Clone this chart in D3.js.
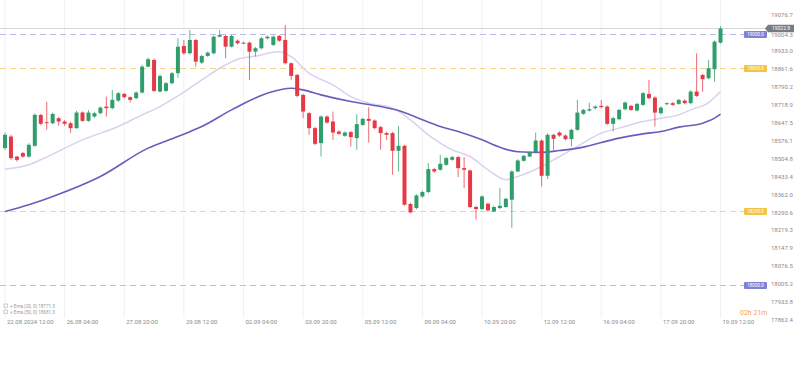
<!DOCTYPE html>
<html><head><meta charset="utf-8">
<script src="https://cdn.jsdelivr.net/npm/d3@7"></script>
<style>
html,body{margin:0;padding:0;background:#fff;}
svg{display:block;font-family:Roboto,"Noto Sans",sans-serif;}
</style></head>
<body>
<svg id="chart" width="806" height="367"></svg>
<script>
// ---------- DATA (4h candles, index 0 = 22.08.2024 12:00) ----------
const opens = [
18546,18592,18512,18526,18512,18555,18678,18649,18645,18665,
18652,18645,18625.5,18688,18654.6,18671.7,18685.2,18711.5,18705.2,18735.4,
18762,18749,18745,18767.3,18870.8,18897.5,18771.3,18774,18804.7,18844.5,
18953.2,18924.2,18977.1,18886.7,18913.4,18924.2,18990.3,18993,18950.4,18974.3,
18964,18966.4,18930.5,18944.1,18983.9,18957.2,18993,18977.1,18884.3,18837.7,
18758.1,18685.2,18625.5,18565.8,18671.7,18651.8,18612,18594.8,18609.6,18585.7,
18638.6,18662.5,18655.8,18629.5,18605.6,18605.6,18535.1,18555,18322.9,18307,
18353.1,18370.7,18462.2,18459.5,18479.4,18499.3,18510,18466.2,18456.7,18310.9,
18303,18324.1,18293.4,18307,18310.9,18340,18452.7,18495.3,18512.4,18529.9,
18576.1,18435.6,18598.8,18608,18596,18581.7,18618.7,18682.5,18695.6,18705.2,
18714.3,18711.5,18642.6,18661.3,18701.2,18714.3,18695.6,18718.3,18762.1,18747.4,
18685.2,18721.1,18725.1,18722.3,18735.4,18725.1,18771.3,18837.7,18824.6,18860.4,
18966.4];
const highs = [
18607,18599,18515,18531,18565,18684.5,18682,18731,18688,18670,
18657,18651,18694.4,18692.4,18698.4,18690.4,18712.3,18751.3,18778,18770,
18766,18752,18772,18877.6,18907.4,18903.5,18839.7,18809.9,18849.7,18983.9,
18977.1,19016.9,18981.1,18917.4,18931.3,18995,19016.9,18997,18997,18979.1,
18970.4,18971,18949.2,18989,18995,18995,18997,19036.9,18887.5,18841.7,
18762.1,18690.4,18630.7,18676.5,18676.5,18691.6,18616.7,18612.7,18614.8,18681.3,
18666.5,18709.1,18660.5,18634.7,18610.8,18610.8,18634.7,18559,18328,18362,
18375.8,18486.1,18467.4,18519.2,18511,18515.2,18515.2,18510,18461.5,18316.1,
18358,18328,18316.1,18386.6,18348,18457.5,18501.3,18519.2,18535.1,18608,
18580.9,18604.8,18602.8,18612.7,18600.8,18622.7,18738.2,18702.4,18727.4,18716.3,
18738.2,18716.3,18670.5,18702.4,18732.2,18718.3,18726.2,18770,18817.8,18752.1,
18712.3,18728.2,18730.2,18742.2,18740.2,18776,18924.2,18841.7,18897.5,18975,
19032];
const lows = [
18539,18499,18492,18507,18507,18551,18637,18619,18641,18635,
18635,18607,18622.7,18650.6,18650.6,18666.5,18680.5,18671.7,18700.4,18730,
18744,18727.4,18740,18764,18867.6,18770,18768,18770,18800,18825.8,
18917.4,18919.4,18870.8,18881.5,18909.4,18919.4,18987,18904.2,18947.3,18959.2,
18960,18817.8,18910.6,18939.3,18979.1,18953.2,18969.2,18879.6,18817.8,18748.2,
18665.3,18598.8,18557,18512.4,18642.6,18578.9,18598.8,18590.8,18552.2,18539.1,
18634.7,18568.2,18620.7,18539.1,18578.9,18439.5,18452.7,18316.1,18286.2,18302,
18348,18365.8,18447.5,18455.5,18475.4,18495.3,18430.4,18386.6,18306.2,18260.4,
18298,18292.2,18290.2,18302.4,18308.2,18228.5,18449.5,18491.3,18509.2,18525.1,
18393,18422.4,18539.1,18590.8,18576.9,18552.2,18614.8,18678.5,18691.6,18700.4,
18704.4,18638.6,18612,18656.6,18696.4,18694.4,18692.4,18714.3,18740.2,18631.9,
18680.5,18716.3,18714.3,18718.3,18720.3,18720.3,18750.1,18771.3,18819.6,18811.1,
18963];
const closes = [
18599,18506,18499,18512,18559,18678.5,18643,18646,18682,18652,
18643,18625.5,18687.6,18654.6,18687.6,18685.2,18707.5,18705.2,18738.2,18764.9,
18749,18738.2,18767.3,18870.8,18900.3,18774,18833.8,18804.7,18844.5,18950.4,
18924.2,18977.1,18890.7,18913.4,18926.5,18990.3,18997,18950.4,18993,18964,
18966.4,18930.5,18944.1,18983.9,18990.3,18990.3,18974.3,18884.3,18833.8,18754.1,
18691.6,18625.5,18563,18671.7,18647.8,18608,18602.8,18608,18589.7,18641.4,
18662.5,18654.6,18625.5,18605.6,18598.8,18535.1,18555,18320.1,18289.4,18357.1,
18370.7,18462.2,18452.7,18483.4,18506,18510,18466.2,18459.5,18310.9,18303,
18353.1,18297.4,18310.9,18316.1,18344,18452.7,18496.5,18515.2,18529.9,18576.1,
18435.6,18598.8,18582.9,18596,18581.7,18618.7,18687.6,18698.4,18701.2,18711.5,
18709.1,18642.6,18665.3,18698.4,18727.4,18698.4,18722.3,18764.9,18745,18687.6,
18707.5,18725.1,18718.3,18738.2,18725.1,18771.3,18754.1,18820.6,18864.4,18970.4,
19022.8];

// moving averages (candle index, value)
const emaFastIdx = [0,4,6,13,19,23,26,29,33,36,39,43,44,46,48,51,55,58,61,65,68,71,75,78,81,84,86,90,93,96,100,103,107,110,113,115,118,120];
const emaFastVal = [18462.2,18479.4,18499.3,18578.9,18631.9,18678.5,18711.5,18754.1,18817.8,18864.4,18900.3,18917.4,18924.2,18930.5,18910.6,18844.5,18797.9,18751.3,18725.1,18705.2,18658.6,18598.8,18539.1,18512.4,18459.5,18419.6,18432.8,18472.6,18512.4,18552.2,18605.6,18625.5,18651.8,18665.3,18678.5,18698.4,18727.4,18771.3];
const emaSlowIdx = [0,4,8,16,24,29,33,38,44,48,50,53,58,63,66,70,73,76,80,83,86,90,93,97,100,103,107,110,113,117,119,120];
const emaSlowVal = [18293.4,18320.1,18353.1,18432.8,18545.9,18592.1,18631.9,18698.4,18764.9,18784.8,18778,18758.1,18731.4,18711.5,18695.6,18658.6,18631.9,18612,18578.9,18549,18531.1,18529,18536.3,18549.9,18568.2,18585.7,18602.8,18612,18629.5,18645.4,18665.3,18681.3];

// horizontal levels
const levelVals = [19000.0, 18865.0, 18295.0, 18000.0];
const levelKinds = ["purple", "yellow", "yellow", "purple"];

// axes
const yTicks = [19076.7,19004.3,18933.0,18861.6,18790.2,18718.9,18647.5,18576.1,18504.8,18433.4,18362.0,18290.6,18219.3,18147.9,18076.5,18005.2,17933.8,17862.4];
const xTicks = [0,10,20,30,40,50,60,70,80,90,100,110,120];
const xTickLabels = ["22.08.2024 12:00","26.08 04:00","27.08 20:00","29.08 12:00","02.09 04:00","03.09 20:00","05.09 12:00","09.09 04:00","10.09 20:00","12.09 12:00","16.09 04:00","17.09 20:00","19.09 12:00"];
const legendLabels = ["Ema (20, 0)", "Ema (50, 0)"];
const timerText = "02h 21m";

// ---------- STYLE ----------
const C = {
  up: "#2f9e6c", down: "#e63946",
  fast: "#d9d1ee", slow: "#6a5cbf",
  purple: {line: "#b9bbea", box: "#7f83d6"},
  yellow: {line: "#f3d68e", box: "#f2c442"},
  grid: "#f1f1f1", axisText: "#8a8a8a", last: "#d6d6d6", lastBox: "#767c83",
  timer: "#f2a45c"
};

const svg = d3.select("#chart");
const x = d3.scaleLinear().domain([0, 120]).range([5, 720.5]);
const y = d3.scaleLinear().domain([17862.4, 19076.7]).range([319.5, 15]);
const plotRight = 768;

const candles = opens.map((o, i) => ({i, o, h: highs[i], l: lows[i], c: closes[i]}));

// vertical grid
svg.append("g").selectAll("line").data(xTicks).join("line")
  .attr("x1", d => x(d)).attr("x2", d => x(d))
  .attr("y1", 0).attr("y2", 318)
  .attr("stroke", C.grid).attr("stroke-width", 1);

// level lines
svg.append("g").selectAll("line").data(levelVals).join("line")
  .attr("x1", 0).attr("x2", 744)
  .attr("y1", d => Math.round(y(d)) + 0.5).attr("y2", d => Math.round(y(d)) + 0.5)
  .attr("stroke", (d, i) => C[levelKinds[i]].line)
  .attr("stroke-width", 1).attr("stroke-dasharray", "6,4");

// last price line
const lastVal = closes[closes.length - 1];
svg.append("line")
  .attr("x1", 0).attr("x2", plotRight)
  .attr("y1", y(lastVal)).attr("y2", y(lastVal))
  .attr("stroke", C.last).attr("stroke-width", 1);

// moving averages
const line = d3.line().x(d => x(d[0])).y(d => y(d[1])).curve(d3.curveMonotoneX);
svg.append("path").datum(emaFastIdx.map((d, k) => [d, emaFastVal[k]]))
  .attr("d", line).attr("fill", "none").attr("stroke", C.fast).attr("stroke-width", 1.5);
svg.append("path").datum(emaSlowIdx.map((d, k) => [d, emaSlowVal[k]]))
  .attr("d", line).attr("fill", "none").attr("stroke", C.slow).attr("stroke-width", 1.6);

// candles
const cg = svg.append("g");
cg.selectAll("line").data(candles).join("line")
  .attr("x1", d => x(d.i)).attr("x2", d => x(d.i))
  .attr("y1", d => y(d.h)).attr("y2", d => y(d.l))
  .attr("stroke", d => d.c >= d.o ? C.up : C.down).attr("stroke-width", 1).attr("opacity", 0.75);
cg.selectAll("rect").data(candles).join("rect")
  .attr("x", d => x(d.i) - 2).attr("width", 4)
  .attr("y", d => y(Math.max(d.o, d.c)))
  .attr("height", d => Math.max(1, Math.abs(y(d.o) - y(d.c))))
  .attr("fill", d => d.c >= d.o ? C.up : C.down);

// y axis (right)
const yAxis = svg.append("g").attr("transform", `translate(769,0)`)
  .call(d3.axisRight(y).tickValues(yTicks).tickSize(0).tickPadding(2).tickFormat(d => d.toFixed(1)));
yAxis.select(".domain").remove();
yAxis.selectAll("text").attr("fill", C.axisText).style("font-size", "6px").style("font-family", "Roboto")
  .attr("dy", (d, k) => k === 1 ? "0.55em" : "0.32em");

// x axis (bottom)
const xAxis = svg.append("g").attr("transform", `translate(0,318)`)
  .call(d3.axisBottom(x).tickValues(xTicks).tickSize(0).tickPadding(2).tickFormat((d, k) => xTickLabels[k]));
xAxis.select(".domain").remove();
xAxis.selectAll("text").attr("fill", C.axisText).attr("text-anchor", "start").attr("dx", 1.5)
  .style("font-size", "6px").style("font-family", "Roboto");

// level labels
const lg = svg.append("g").selectAll("g").data(levelVals).join("g")
  .attr("transform", d => `translate(744,${Math.round(y(d)) + 0.5})`);
lg.append("rect").attr("x", 0).attr("y", -3.5).attr("width", 23).attr("height", 7).attr("rx", 1)
  .attr("fill", (d, i) => C[levelKinds[i]].box);
lg.append("text").attr("x", 11.5).attr("y", 0).attr("dy", "0.35em").attr("text-anchor", "middle")
  .attr("fill", "#fff").style("font-size", "4.6px").text(d => d.toFixed(1));

// last price label
const ly = y(lastVal);
svg.append("path")
  .attr("d", `M765,${ly} L768,${ly - 3.8} L794,${ly - 3.8} L794,${ly + 3.8} L768,${ly + 3.8} Z`)
  .attr("fill", C.lastBox);
svg.append("text").attr("x", 781).attr("y", ly - 0.3).attr("dy", "0.35em").attr("text-anchor", "middle")
  .attr("fill", "#fff").style("font-size", "5px").text(lastVal.toFixed(1));

// legend
const leg = svg.append("g").selectAll("g").data(legendLabels).join("g")
  .attr("transform", (d, k) => `translate(4,${306 + k * 6})`);
leg.append("rect").attr("x", 0).attr("y", -2).attr("width", 3.5).attr("height", 3.5)
  .attr("fill", "none").attr("stroke", "#aaa").attr("stroke-width", 0.6);
leg.append("text").attr("x", 6).attr("y", 0).attr("dy", "0.35em")
  .attr("fill", "#999").style("font-size", "4.6px")
  .text((d, k) => "≡ " + d + " " + (k === 0 ? emaFastVal[emaFastVal.length - 1] : emaSlowVal[emaSlowVal.length - 1]).toFixed(1));

// timer
svg.append("text").attr("x", 740).attr("y", 314.5)
  .attr("fill", C.timer).style("font-size", "7px").text(timerText);
</script>
</body></html>
